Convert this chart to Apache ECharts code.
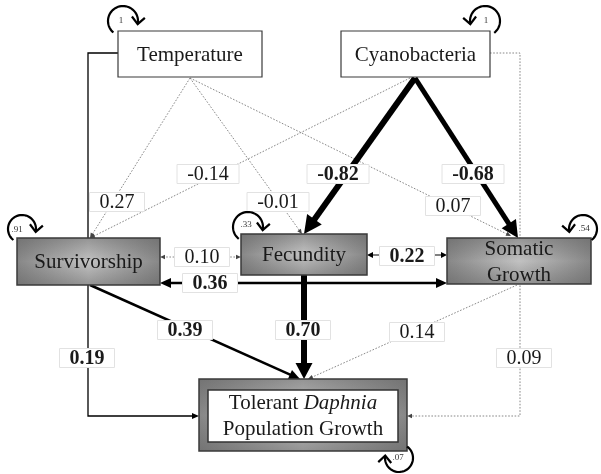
<!DOCTYPE html>
<html>
<head>
<meta charset="utf-8">
<script src="https://cdn.jsdelivr.net/npm/echarts@6/dist/echarts.min.js"></script>
<style>
  html, body { margin: 0; padding: 0; background: #fff; }
  #chart { width: 601px; height: 474px; }
</style>
</head>
<body>
<div id="chart"></div>
<script>
// ---- Path model: variables, residual variances, path and covariance coefficients ----
const variables = ['Temperature', 'Cyanobacteria', 'Survivorship', 'Fecundity', 'Somatic Growth', 'Tolerant Daphnia Population Growth'];
const residualVariance = [1, 1, 0.91, 0.33, 0.54, 0.07];

const pathFrom = ['Temperature', 'Temperature', 'Temperature', 'Temperature',
                  'Cyanobacteria', 'Cyanobacteria', 'Cyanobacteria', 'Cyanobacteria',
                  'Survivorship', 'Fecundity', 'Somatic Growth'];
const pathTo = ['Survivorship', 'Fecundity', 'Somatic Growth', 'Tolerant Daphnia Population Growth',
                'Survivorship', 'Fecundity', 'Somatic Growth', 'Tolerant Daphnia Population Growth',
                'Tolerant Daphnia Population Growth', 'Tolerant Daphnia Population Growth', 'Tolerant Daphnia Population Growth'];
const pathCoefficient = [0.27, -0.01, 0.07, 0.19, -0.14, -0.82, -0.68, 0.09, 0.39, 0.70, 0.14];
const pathSignificant = [false, false, false, true, false, true, true, false, true, true, false];

const covA = ['Survivorship', 'Fecundity', 'Survivorship'];
const covB = ['Fecundity', 'Somatic Growth', 'Somatic Growth'];
const covCoefficient = [0.10, 0.22, 0.36];
const covSignificant = [false, true, true];

// ---- Diagram layout (pixel space of a hidden 601 x 474 cartesian grid) ----
const nodeLayout = {
  'Temperature':   { x: 190,   y: 54,    w: 144, h: 46, kind: 'plain',  lines: ['Temperature'] },
  'Cyanobacteria': { x: 415.5, y: 54,    w: 149, h: 46, kind: 'plain',  lines: ['Cyanobacteria'] },
  'Survivorship':  { x: 88.5,  y: 261.5, w: 143, h: 47, kind: 'shaded', lines: ['Survivorship'] },
  'Fecundity':     { x: 304,   y: 254.5, w: 126, h: 41, kind: 'shaded', lines: ['Fecundity'] },
  'Somatic Growth':{ x: 519,   y: 261,   w: 144, h: 46, kind: 'shaded', lines: ['Somatic', 'Growth'] },
  'Tolerant Daphnia Population Growth': { x: 303, y: 415, w: 208, h: 72, kind: 'outcome', lines: null }
};

// self-loop arcs (residual variances), angles in degrees, screen orientation
const loopLayout = [
  { cx: 123, cy: 21,  r: 15, a0: 130, a1: 372, lx: 121, ly: 21 },
  { cx: 485, cy: 21,  r: 15, a0: 52,  a1: -192, lx: 486, ly: 21 },
  { cx: 22,  cy: 229, r: 14, a0: 128, a1: 372, lx: 17,  ly: 230 },
  { cx: 248, cy: 227, r: 15, a0: 128, a1: 372, lx: 246, ly: 225 },
  { cx: 583, cy: 229, r: 14, a0: 52,  a1: -192, lx: 584, ly: 229 },
  { cx: 399, cy: 458, r: 14, a0: -55, a1: 190, lx: 398, ly: 458 }
];

// routes of the directed paths and positions of their coefficient labels
const pathRoute = [
  { pts: [[190, 78], [90, 238]],   lab: [117, 202] },
  { pts: [[190, 78], [302, 234]],  lab: [278, 202] },
  { pts: [[190, 78], [511, 236]],  lab: [453, 206] },
  { pts: [[118, 53], [88, 53], [88, 416], [199, 416]], lab: [87, 358] },
  { pts: [[410, 78], [90, 238]],   lab: [208, 174] },
  { pts: [[415, 78], [304, 234]],  lab: [338, 174] },
  { pts: [[415, 78], [518, 238]],  lab: [473, 174] },
  { pts: [[490, 53], [520, 53], [520, 416], [407, 416]], lab: [524, 358] },
  { pts: [[90, 285], [300, 379]],  lab: [185, 330] },
  { pts: [[304, 275], [304, 379]], lab: [303, 330] },
  { pts: [[517, 285], [308, 379]], lab: [417, 332] }
];
// stroke widths / arrowhead sizes of the significant paths
const pathStroke = [null, null, null, { w: 1.3, hl: 7, hw: 3 }, null,
  { w: 6, hl: 18, hw: 9 }, { w: 5, hl: 17, hw: 8.5 }, null,
  { w: 2.5, hl: 11, hw: 5 }, { w: 6, hl: 16, hw: 8.5 }, null];

const covRoute = [
  { pts: [[160, 257], [241, 257]], lab: [202, 257] },
  { pts: [[367, 255], [447, 255]], lab: [407, 256] },
  { pts: [[160, 283], [447, 283]], lab: [210, 283] }
];
const covStroke = [null, { w: 1, hl: 6, hw: 3 }, { w: 2.5, hl: 11, hw: 5 }];

const SERIF = '"Liberation Serif", "Times New Roman", serif';
const dottedStroke = { w: 0.9, hl: 5, hw: 2.2, dotted: true };

const measureCtx = document.createElement('canvas').getContext('2d');
function textWidth(txt, font) { measureCtx.font = font; return measureCtx.measureText(txt).width; }

function fmtCoef(v) { return v.toFixed(2); }
function fmtResidual(v) { return v === 1 ? '1' : v.toFixed(2).replace(/^0/, ''); }

// arrowhead polygon at tip p, coming from q
function arrowHead(p, q, hl, hw, color) {
  const dx = p[0] - q[0], dy = p[1] - q[1];
  const len = Math.hypot(dx, dy) || 1;
  const ux = dx / len, uy = dy / len;
  const bx = p[0] - ux * hl, by = p[1] - uy * hl;
  return {
    type: 'polygon',
    shape: { points: [[p[0], p[1]], [bx - uy * hw, by + ux * hw], [bx + uy * hw, by - ux * hw]] },
    style: { fill: color }
  };
}

// line (shortened so the shaft ends inside the arrowhead) with one or two arrowheads
function connector(api, route, stroke, both) {
  const s = stroke || dottedStroke;
  const pts = route.map(p => api.coord(p));
  const color = s.dotted ? '#7a7a7a' : '#000';
  const headColor = s.dotted ? '#444' : '#000';
  const shaft = pts.map(p => p.slice());
  const trim = (a, b, d) => {
    const dx = a[0] - b[0], dy = a[1] - b[1], l = Math.hypot(dx, dy) || 1;
    a[0] -= dx / l * d; a[1] -= dy / l * d;
  };
  const n = pts.length;
  trim(shaft[n - 1], shaft[n - 2], s.hl * 0.6);
  if (both) trim(shaft[0], shaft[1], s.hl * 0.6);
  const children = [{
    type: 'polyline',
    shape: { points: shaft },
    style: { stroke: color, lineWidth: s.w, fill: null, lineDash: s.dotted ? [1.6, 1.6] : null, lineJoin: 'miter' }
  }];
  children.push(arrowHead(pts[n - 1], pts[n - 2], s.hl, s.hw, headColor));
  if (both) children.push(arrowHead(pts[0], pts[1], s.hl, s.hw, headColor));
  return children;
}

function coefLabel(api, pos, txt, bold) {
  const font = (bold ? 'bold ' : '') + '20px ' + SERIF;
  const c = api.coord(pos);
  const w = Math.round(textWidth(txt, font)) + 20;
  const h = 19;
  return [
    { type: 'rect', shape: { x: c[0] - w / 2, y: c[1] - h / 2, width: w, height: h },
      style: { fill: '#fff', stroke: '#e2e2e2', lineWidth: 1 } },
    { type: 'text', style: { text: txt, x: c[0], y: c[1] + 1, align: 'center', verticalAlign: 'middle',
      font: font, fill: '#1a1a1a' } }
  ];
}

function shadedRect(x, y, w, h) {
  return [
    { type: 'rect', shape: { x, y, width: w, height: h },
      style: { fill: new echarts.graphic.LinearGradient(0, 0, 1, 0, [
        { offset: 0, color: '#878787' }, { offset: 0.5, color: '#c2c2c2' }, { offset: 1, color: '#878787' }]) } },
    { type: 'rect', shape: { x, y, width: w, height: h },
      style: { fill: new echarts.graphic.LinearGradient(0, 0, 0, 1, [
        { offset: 0, color: 'rgba(90,90,90,0.45)' }, { offset: 0.5, color: 'rgba(90,90,90,0)' },
        { offset: 1, color: 'rgba(90,90,90,0.45)' }]), stroke: '#3a3a3a', lineWidth: 1.5 } }
  ];
}

function renderNode(params, api) {
  const name = variables[params.dataIndex];
  const L = nodeLayout[name];
  const c = api.coord([L.x, L.y]);
  const x = c[0] - L.w / 2, y = c[1] - L.h / 2;
  const children = [];
  const font = '21px ' + SERIF;
  if (L.kind === 'plain') {
    children.push({ type: 'rect', shape: { x, y, width: L.w, height: L.h },
      style: { fill: '#fff', stroke: '#3a3a3a', lineWidth: 1.2 } });
  } else if (L.kind === 'shaded') {
    children.push(...shadedRect(x, y, L.w, L.h));
  } else {
    children.push(...shadedRect(x, y, L.w, L.h));
    children.push({ type: 'rect', shape: { x: x + 9, y: y + 11, width: L.w - 18, height: L.h - 20 },
      style: { fill: '#fff', stroke: '#333', lineWidth: 1.5 } });
  }
  if (L.lines) {
    const lh = 26;
    L.lines.forEach((t, i) => {
      children.push({ type: 'text', style: {
        text: t, x: c[0], y: c[1] + (i - (L.lines.length - 1) / 2) * lh + 1,
        align: 'center', verticalAlign: 'middle', font, fill: '#1a1a1a' } });
    });
  } else {
    children.push({ type: 'text', style: {
      text: '{n|Tolerant }{i|Daphnia}\n{n|Population Growth}',
      x: c[0], y: c[1] + 1, align: 'center', verticalAlign: 'middle',
      rich: {
        n: { font: font, fill: '#1a1a1a', lineHeight: 26 },
        i: { font: 'italic ' + font, fill: '#1a1a1a', lineHeight: 26 }
      } } });
  }
  return { type: 'group', children };
}

function renderPath(params, api) {
  const i = params.dataIndex;
  return { type: 'group', children: connector(api, pathRoute[i].pts, pathStroke[i], false) };
}
function renderCov(params, api) {
  const i = params.dataIndex;
  return { type: 'group', children: connector(api, covRoute[i].pts, covStroke[i], true) };
}
function renderLabels(params, api) {
  const i = params.dataIndex;
  if (i < pathCoefficient.length) {
    return { type: 'group', children: coefLabel(api, pathRoute[i].lab, fmtCoef(pathCoefficient[i]), pathSignificant[i]) };
  }
  const k = i - pathCoefficient.length;
  return { type: 'group', children: coefLabel(api, covRoute[k].lab, fmtCoef(covCoefficient[k]), covSignificant[k]) };
}
function renderLoop(params, api) {
  const i = params.dataIndex;
  const L = loopLayout[i];
  const c = api.coord([L.cx, L.cy]);
  const pts = [];
  const steps = 40;
  for (let s = 0; s <= steps; s++) {
    const a = (L.a0 + (L.a1 - L.a0) * s / steps) * Math.PI / 180;
    pts.push([c[0] + L.r * Math.cos(a), c[1] + L.r * Math.sin(a)]);
  }
  const tip = pts[pts.length - 1];
  const prev = pts[pts.length - 3];
  const dx = tip[0] - prev[0], dy = tip[1] - prev[1], l = Math.hypot(dx, dy);
  const ux = dx / l, uy = dy / l;
  const al = 7, aw = 6.5;
  const chevron = [
    [tip[0] - ux * al - uy * aw, tip[1] - uy * al + ux * aw],
    tip,
    [tip[0] - ux * al + uy * aw, tip[1] - uy * al - ux * aw]
  ];
  const lp = api.coord([L.lx, L.ly]);
  return { type: 'group', children: [
    { type: 'polyline', shape: { points: pts }, style: { stroke: '#000', lineWidth: 2.2, fill: null } },
    { type: 'polyline', shape: { points: chevron }, style: { stroke: '#000', lineWidth: 2.2, fill: null } },
    { type: 'text', style: { text: fmtResidual(residualVariance[i]), x: lp[0], y: lp[1], align: 'center',
      verticalAlign: 'middle', font: '9px ' + SERIF, fill: '#333' } }
  ] };
}

const chart = echarts.init(document.getElementById('chart'), null, { renderer: 'canvas' });
const axisCommon = { type: 'value', show: false, splitLine: { show: false } };
chart.setOption({
  animation: false,
  backgroundColor: '#fff',
  grid: { left: 0, right: 0, top: 0, bottom: 0 },
  xAxis: Object.assign({ min: 0, max: 601 }, axisCommon),
  yAxis: Object.assign({ min: 0, max: 474, inverse: true }, axisCommon),
  series: [
    { type: 'custom', name: 'paths', z: 1, clip: false, renderItem: renderPath,
      data: pathRoute.map(r => r.lab) },
    { type: 'custom', name: 'covariances', z: 1, clip: false, renderItem: renderCov,
      data: covRoute.map(r => r.lab) },
    { type: 'custom', name: 'variables', z: 2, clip: false, renderItem: renderNode,
      data: variables.map(v => [nodeLayout[v].x, nodeLayout[v].y]) },
    { type: 'custom', name: 'coefficients', z: 3, clip: false, renderItem: renderLabels,
      data: pathRoute.map(r => r.lab).concat(covRoute.map(r => r.lab)) },
    { type: 'custom', name: 'residuals', z: 3, clip: false, renderItem: renderLoop,
      data: loopLayout.map(l => [l.cx, l.cy]) }
  ]
});
</script>
</body>
</html>
